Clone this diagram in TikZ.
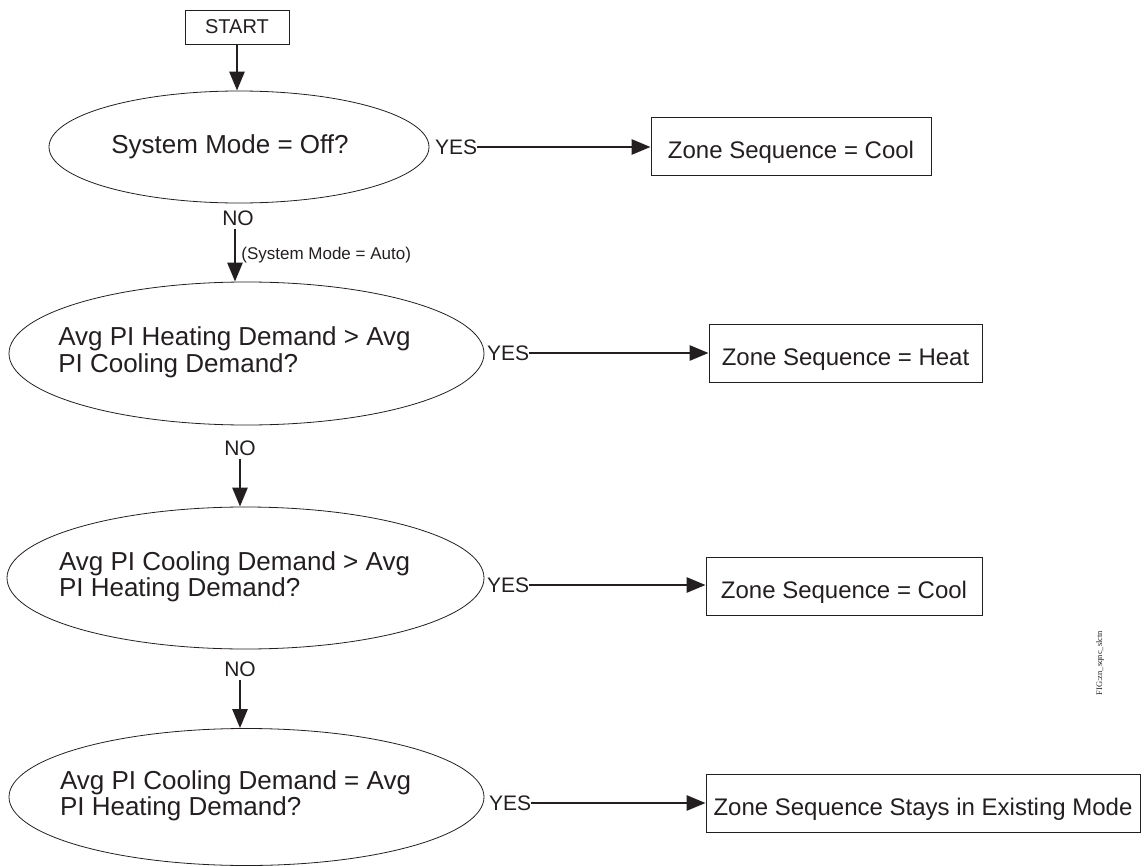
\documentclass[tikz,border=0pt]{standalone}
\usepackage{fontspec}
\setmainfont{Liberation Sans}
\newfontfamily\figserif{Liberation Serif}
\usetikzlibrary{shapes.geometric,arrows.meta}
\definecolor{ink}{RGB}{35,31,32}
\begin{document}
\begin{tikzpicture}[x=1pt,y=-1pt,
  every node/.style={text=ink},
  decision/.style={draw=ink, line width=0.8pt, ellipse, inner sep=0pt,
    font=\fontsize{26}{26}\selectfont},
  result/.style={draw=ink, line width=0.8pt, rectangle, inner sep=0pt,
    minimum height=58pt, text height=26pt, text depth=2pt,
    font=\fontsize{24}{28}\selectfont},
  startbox/.style={draw=ink, line width=0.8pt, rectangle, inner sep=0pt,
    minimum width=104pt, minimum height=34pt, font=\fontsize{20}{24}\selectfont},
  lbl/.style={font=\fontsize{21}{24}\selectfont, inner sep=0pt},
  flow/.style={draw=ink, line width=2.7pt, -{Triangle[length=19pt,width=15pt]}},
]
\useasboundingbox (0,0) rectangle (1144,867);

% start
\node[startbox] (start) at (237,27) {START};

% decisions
\node[decision, minimum width=380pt, minimum height=112pt] (e1) at (239,147)
  {\makebox[0pt]{\hspace*{-18pt}System Mode = Off?}};
\node[decision, minimum width=475pt, minimum height=143pt] (e2) at (246.5,353.5)
  {\makebox[0pt]{\hspace*{-24pt}\begin{tabular}{@{}l@{}}Avg PI Heating Demand > Avg\\PI Cooling Demand?\end{tabular}}};
\node[decision, minimum width=477pt, minimum height=142pt] (e3) at (245.5,578)
  {\makebox[0pt]{\hspace*{-22pt}\begin{tabular}{@{}l@{}}Avg PI Cooling Demand > Avg\\PI Heating Demand?\end{tabular}}};
\node[decision, minimum width=475pt, minimum height=137pt] (e4) at (246.5,797)
  {\makebox[0pt]{\hspace*{-22pt}\begin{tabular}{@{}l@{}}Avg PI Cooling Demand = Avg\\PI Heating Demand?\end{tabular}}};

% results
\node[result, minimum width=280pt] (b1) at (791,146) {Zone Sequence = Cool};
\node[result, minimum width=273pt] (b2) at (845.5,353) {Zone Sequence = Heat};
\node[result, minimum width=276pt] (b3) at (844,586) {Zone Sequence = Cool};
\node[result, minimum width=434pt] (b4) at (923,803) {Zone Sequence Stays in Existing Mode};

% YES labels
\node[lbl, anchor=west] (y1) at (435,147) {YES};
\node[lbl, anchor=west] (y2) at (487,353) {YES};
\node[lbl, anchor=west] (y3) at (487,585) {YES};
\node[lbl, anchor=west] (y4) at (489,803) {YES};

% NO labels
\node[lbl, inner sep=3pt] (n1) at (238,218) {NO};
\node[lbl, inner sep=3pt] (n2) at (240,448) {NO};
\node[lbl, inner sep=3pt] (n3) at (240,669) {NO};

% figure id
\node[font=\figserif\fontsize{8.5}{10}\selectfont, rotate=90, inner sep=0pt] (fig) at (1100,663) {FIG:zn\_sqnc\_slctn};

% connectors
\draw[flow] (start.south) -- (start.south |- e1.north);
\draw[flow] (y1.east) -- (y1.east -| b1.west);
\draw[flow] (y2.east) -- (y2.east -| b2.west);
\draw[flow] (y3.east) -- (y3.east -| b3.west);
\draw[flow] (y4.east) -- (y4.east -| b4.west);
\draw[flow] ([xshift=-3pt]n1.south) -- ([xshift=-3pt]n1.south |- e2.north)
  node[midway, right, inner sep=5pt, font=\fontsize{17}{20}\selectfont] (auto) {(System Mode = Auto)};
\draw[flow] (n2.south) -- (n2.south |- e3.north);
\draw[flow] (n3.south) -- (n3.south |- e4.north);
\end{tikzpicture}
\end{document}
